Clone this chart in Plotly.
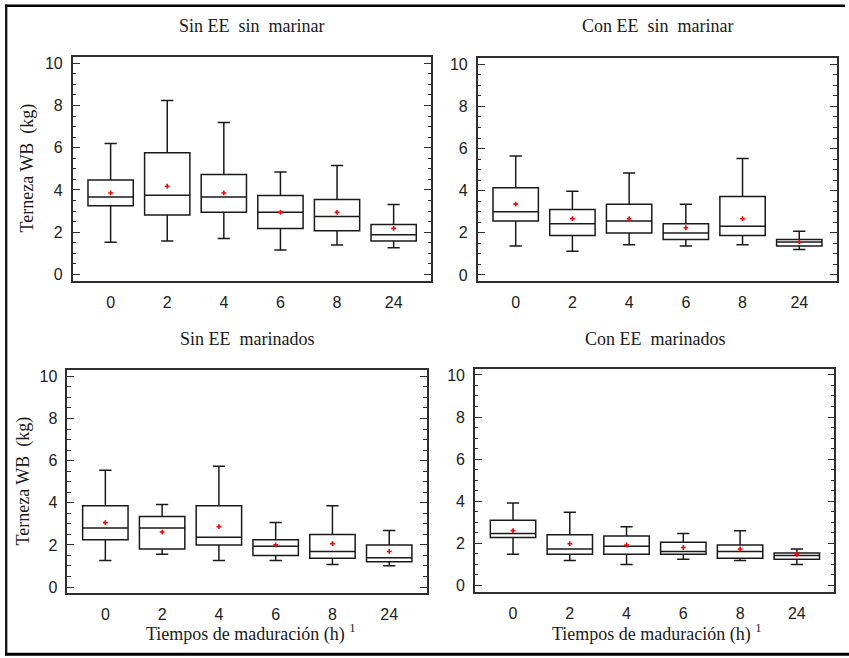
import plotly.graph_objects as go

# ---------------- data ----------------
categories = ["0", "2", "4", "6", "8", "24"]
positions = [0, 1, 2, 3, 4, 5]

panel_titles = [
    "Sin EE\u00a0\u00a0sin\u00a0\u00a0marinar",
    "Con EE\u00a0\u00a0sin\u00a0\u00a0marinar",
    "Sin EE\u00a0\u00a0marinados",
    "Con EE\u00a0\u00a0marinados",
]

# Sin EE sin marinar
p1_upper = [6.20, 8.24, 7.19, 4.85, 5.16, 3.31]
p1_q3 = [4.47, 5.76, 4.73, 3.74, 3.55, 2.37]
p1_median = [3.67, 3.75, 3.67, 2.94, 2.75, 1.88]
p1_q1 = [3.25, 2.81, 2.94, 2.18, 2.07, 1.59]
p1_lower = [1.52, 1.59, 1.70, 1.16, 1.40, 1.27]
p1_mean = [3.86, 4.18, 3.86, 2.94, 2.94, 2.18]

# Con EE sin marinar
p2_upper = [5.65, 3.97, 4.84, 3.36, 5.53, 2.07]
p2_q3 = [4.14, 3.11, 3.36, 2.43, 3.72, 1.68]
p2_median = [3.00, 2.43, 2.56, 1.99, 2.31, 1.57]
p2_q1 = [2.56, 1.87, 1.99, 1.68, 1.87, 1.38]
p2_lower = [1.37, 1.13, 1.44, 1.37, 1.44, 1.21]
p2_mean = [3.36, 2.67, 2.67, 2.24, 2.67, 1.57]

# Sin EE marinados
p3_upper = [5.54, 3.92, 5.73, 3.06, 3.86, 2.68]
p3_q3 = [3.86, 3.35, 3.86, 2.25, 2.49, 2.00]
p3_median = [2.80, 2.80, 2.36, 1.94, 1.69, 1.39]
p3_q1 = [2.25, 1.81, 2.00, 1.50, 1.37, 1.20]
p3_lower = [1.26, 1.56, 1.26, 1.26, 1.07, 1.01]
p3_mean = [3.06, 2.61, 2.87, 2.00, 2.06, 1.69]

# Con EE marinados
p4_upper = [3.91, 3.48, 2.79, 2.47, 2.60, 1.73]
p4_q3 = [3.10, 2.41, 2.35, 2.05, 1.92, 1.54]
p4_median = [2.47, 1.73, 1.86, 1.61, 1.61, 1.42]
p4_q1 = [2.28, 1.48, 1.48, 1.48, 1.29, 1.24]
p4_lower = [1.48, 1.18, 0.99, 1.24, 1.18, 0.99]
p4_mean = [2.60, 1.98, 1.92, 1.80, 1.73, 1.48]

y_title = "Terneza WB\u00a0\u00a0(kg)"
x_title = "Tiempos de maduración (h) <sup>1</sup>"

# ---------------- figure ----------------
W, H = 849, 658

def px(x):
    return x / W

def py(y):
    return 1 - y / H

panels = [
    (p1_upper, p1_q3, p1_median, p1_q1, p1_lower, p1_mean),
    (p2_upper, p2_q3, p2_median, p2_q1, p2_lower, p2_mean),
    (p3_upper, p3_q3, p3_median, p3_q1, p3_lower, p3_mean),
    (p4_upper, p4_q3, p4_median, p4_q1, p4_lower, p4_mean),
]

# pixel boxes of the plot areas: (left, right, top, bottom)
boxes = [
    (72.7, 431.0, 55.7, 280.5),
    (477.7, 836.7, 56.7, 281.0),
    (67.3, 426.7, 370.7, 595.0),
    (475.0, 834.3, 369.3, 593.3),
]

fig = go.Figure()
layout = dict(
    width=W, height=H,
    margin=dict(l=0, r=0, t=0, b=0),
    paper_bgcolor="white", plot_bgcolor="white",
    showlegend=False,
    annotations=[], shapes=[],
)

serif = "Liberation Serif, Times New Roman, serif"
sans = "Liberation Sans, Arial, sans-serif"
axis_col = "#2e2e2e"

for i, (data, box) in enumerate(zip(panels, boxes)):
    n = "" if i == 0 else str(i + 1)
    upper, q3, med, q1, lower, mean = data
    fig.add_trace(go.Box(
        x=positions, q1=q1, median=med, q3=q3,
        lowerfence=lower, upperfence=upper,
        width=0.8, whiskerwidth=0.27,
        line=dict(color="#1a1a1a", width=1.5),
        fillcolor="rgba(0,0,0,0)",
        boxpoints=False,
        xaxis="x" + n, yaxis="y" + n,
    ))
    fig.add_trace(go.Scatter(
        x=positions, y=mean, mode="markers",
        marker=dict(symbol="cross", size=4, color="#ff0000", line=dict(width=0)),
        xaxis="x" + n, yaxis="y" + n,
    ))
    l, r, t, b = box
    layout["xaxis" + n] = dict(
        domain=[px(l), px(r)], anchor="y" + n,
        range=[-0.67, 5.66],
        tickmode="array", tickvals=positions, ticktext=categories,
        ticks="", showline=True, mirror=True, linecolor=axis_col, linewidth=1.6,
        showgrid=False, zeroline=False,
        tickfont=dict(family=sans, size=16, color="#222"),
        ticklabelstandoff=6,
    )
    layout["yaxis" + n] = dict(
        domain=[py(b), py(t)], anchor="x" + n,
        range=[-0.3, 10.28],
        tickmode="linear", tick0=0, dtick=2,
        ticks="inside", ticklen=7, tickwidth=1.4, tickcolor=axis_col,
        minor=dict(dtick=0.5, ticks="inside", ticklen=3.5, tickwidth=1.2, tickcolor=axis_col, showgrid=False),
        showline=True, mirror="ticks", linecolor=axis_col, linewidth=1.6,
        showgrid=False, zeroline=False,
        tickfont=dict(family=sans, size=16, color="#222"),
        ticklabelstandoff=5,
    )
    # panel title
    layout["annotations"].append(dict(
        text=panel_titles[i], xref="paper", yref="paper",
        x=px((l + r) / 2), y=py(24 if i < 2 else 339),
        xanchor="center", yanchor="middle", showarrow=False,
        font=dict(family=serif, size=18, color="#1a1a1a"),
    ))

# y-axis titles (left panels)
for xc, yc in [(27.5, 167), (23.5, 482)]:
    layout["annotations"].append(dict(
        text=y_title, xref="paper", yref="paper",
        x=px(xc), y=py(yc), xanchor="center", yanchor="middle",
        textangle=-90, showarrow=False,
        font=dict(family=serif, size=18, color="#1a1a1a"),
    ))

# x-axis titles (bottom panels)
for xc in [250.5, 657.0]:
    layout["annotations"].append(dict(
        text=x_title, xref="paper", yref="paper",
        x=px(xc), y=py(635), xanchor="center", yanchor="middle",
        showarrow=False,
        font=dict(family=serif, size=18, color="#1a1a1a"),
    ))

# outer frame (top, left, bottom)
layout["shapes"] = [
    dict(type="line", xref="paper", yref="paper", x0=px(5), x1=px(845), y0=py(3.7), y1=py(3.7),
         line=dict(color="black", width=2.5)),
    dict(type="line", xref="paper", yref="paper", x0=px(6.2), x1=px(6.2), y0=py(2.5), y1=py(657.5),
         line=dict(color="#111", width=2.3)),
    dict(type="line", xref="paper", yref="paper", x0=px(5), x1=px(849), y0=py(656.3), y1=py(656.3),
         line=dict(color="black", width=3)),
]

fig.update_layout(**layout)
fig.write_html(
    "out.html",
    config={"displayModeBar": False},
    post_script="document.body.style.margin='0px';document.body.style.overflow='hidden';",
)
